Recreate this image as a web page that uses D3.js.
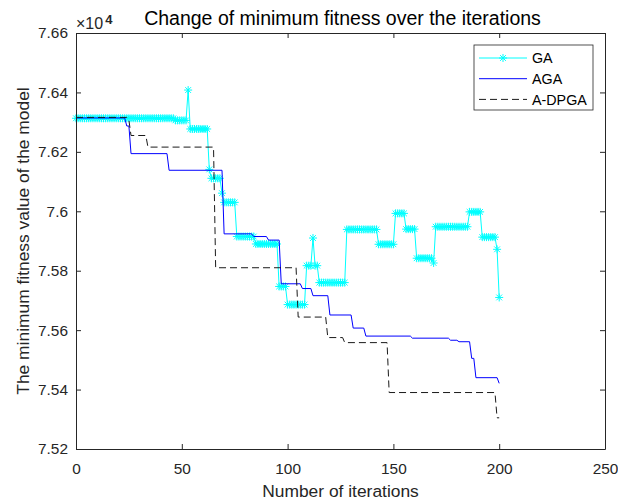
<!DOCTYPE html>
<html>
  <head>
    <meta charset="utf-8" />
    <title>Change of minimum fitness over the iterations</title>
    <script src="https://d3js.org/d3.v7.min.js"></script>
    <style>
      body { margin: 0; background: #fff; }
      svg { display: block; font-family: "Liberation Sans", Arial, Helvetica, sans-serif; }
    </style>
  </head>
  <body>
    <svg id="chart" width="618" height="502"></svg>

    <script>
      // Datos (valores en unidades de 10^4)
      const iterTicks = [0, 50, 100, 150, 200, 250];
      const valueTicks = [7.52, 7.54, 7.56, 7.58, 7.6, 7.62, 7.64, 7.66];
      const seriesNames = ["GA", "AGA", "A-DPGA"];

      // GA: un valor por iteración (0..200)
      const gaValue = [
        7.6313, 7.6313, 7.6313, 7.6313, 7.6313, 7.6313, 7.6313, 7.6313, 7.6313, 7.6313,
        7.6313, 7.6313, 7.6313, 7.6313, 7.6313, 7.6313, 7.6313, 7.6313, 7.6313, 7.6313,
        7.6313, 7.6313, 7.6313, 7.6313, 7.6313, 7.6313, 7.6313, 7.6313, 7.6313, 7.6313,
        7.6313, 7.6313, 7.6313, 7.6313, 7.6313, 7.6313, 7.6313, 7.6313, 7.6313, 7.6313,
        7.6313, 7.6313, 7.6313, 7.6313, 7.6313, 7.6313, 7.6313,
        7.6306, 7.6306, 7.6306, 7.6306, 7.6306, 7.6306,
        7.6408,
        7.6277, 7.6277, 7.6277, 7.6277, 7.6277, 7.6277, 7.6277, 7.6277, 7.6277,
        7.6141,
        7.6111, 7.6111, 7.6111, 7.6111, 7.6111,
        7.6061,
        7.6030, 7.6030, 7.6030, 7.6030, 7.6030, 7.6030,
        7.5915, 7.5915, 7.5915, 7.5915, 7.5915, 7.5915, 7.5915, 7.5915, 7.5915,
        7.5890, 7.5890, 7.5890, 7.5890, 7.5890, 7.5890, 7.5890, 7.5890, 7.5890, 7.5890, 7.5890,
        7.5747, 7.5747, 7.5747, 7.5747,
        7.5686, 7.5686, 7.5686, 7.5686, 7.5686, 7.5686, 7.5686, 7.5686, 7.5686,
        7.5817, 7.5817, 7.5817,
        7.5910,
        7.5817, 7.5817,
        7.5760, 7.5760, 7.5760, 7.5760, 7.5760, 7.5760, 7.5760, 7.5760, 7.5760, 7.5760, 7.5760, 7.5760, 7.5760,
        7.5939, 7.5939, 7.5939, 7.5939, 7.5939, 7.5939, 7.5939, 7.5939, 7.5939, 7.5939, 7.5939, 7.5939, 7.5939, 7.5939, 7.5939,
        7.5889, 7.5889, 7.5889, 7.5889, 7.5889, 7.5889, 7.5889, 7.5889,
        7.5993, 7.5993, 7.5993, 7.5993, 7.5993,
        7.5940, 7.5940, 7.5940, 7.5940, 7.5940,
        7.5842, 7.5842, 7.5842, 7.5842, 7.5842, 7.5842, 7.5842, 7.5842,
        7.5826,
        7.5948, 7.5948, 7.5948, 7.5948, 7.5948, 7.5948, 7.5948, 7.5948, 7.5948, 7.5948, 7.5948, 7.5948, 7.5948, 7.5948, 7.5948, 7.5948,
        7.5998, 7.5998, 7.5998, 7.5998, 7.5998, 7.5998,
        7.5913, 7.5913, 7.5913, 7.5913, 7.5913, 7.5913, 7.5913,
        7.5872,
        7.5710
      ];

      // AGA: vértices de la curva escalonada
      const agaIter = [0, 23, 24, 25, 26, 43, 44, 69, 70, 83, 84, 90, 91, 96, 97, 106, 107, 111, 112, 119,
        120, 130, 131, 136, 137, 158, 159, 176, 177, 180, 181, 186, 187, 188, 189, 199, 200];
      const agaValue = [7.6314, 7.6314, 7.6287, 7.6287, 7.6194, 7.6194, 7.6138, 7.6138, 7.5924, 7.5924,
        7.5915, 7.5915, 7.5903, 7.5903, 7.5756, 7.5756, 7.5740, 7.5740, 7.5716, 7.5716,
        7.5651, 7.5651, 7.5607, 7.5607, 7.5580, 7.5580, 7.5573, 7.5573, 7.5566, 7.5566,
        7.5561, 7.5561, 7.5505, 7.5505, 7.5440, 7.5440, 7.5421];

      // A-DPGA: vértices de la curva escalonada
      const adIter = [0, 24, 25, 26, 33, 34, 65, 66, 104, 105, 118, 119, 126, 127, 147, 148, 198, 199, 200];
      const adValue = [7.6316, 7.6316, 7.6307, 7.6255, 7.6255, 7.6216, 7.6216, 7.5810, 7.5810, 7.5644,
        7.5644, 7.5575, 7.5575, 7.5558, 7.5558, 7.5390, 7.5390, 7.5305, 7.5305];

      const svg = d3.select("#chart");
      const margin = { top: 33, right: 13, bottom: 53, left: 76 };
      const width = 618;
      const height = 502;
      const textColor = "#262626";

      const x = d3.scaleLinear().domain([0, 250]).range([margin.left, width - margin.right]);
      const y = d3.scaleLinear().domain([7.52, 7.66]).range([height - margin.bottom, margin.top]);

      const ga = gaValue.map((v, i) => [i, v]);
      const aga = agaIter.map((it, i) => [it, agaValue[i]]);
      const adpga = adIter.map((it, i) => [it, adValue[i]]);

      const line = d3.line().x((d) => x(d[0])).y((d) => y(d[1]));

      // Asterisco estilo MATLAB
      const star = (r) => {
        const q = r * 0.72;
        return `M${-r},0L${r},0M0,${-r}L0,${r}M${-q},${-q}L${q},${q}M${-q},${q}L${q},${-q}`;
      };

      // GA
      svg.append("path").datum(ga)
        .attr("fill", "none").attr("stroke", "#00ffff").attr("stroke-width", 1)
        .attr("d", line);
      svg.append("g").selectAll("path").data(ga).join("path")
        .attr("transform", (d) => `translate(${x(d[0])},${y(d[1])})`)
        .attr("d", star(4))
        .attr("fill", "none").attr("stroke", "#00ffff").attr("stroke-width", 1);

      // AGA
      svg.append("path").datum(aga)
        .attr("fill", "none").attr("stroke", "#0000ff").attr("stroke-width", 1)
        .attr("d", line);

      // A-DPGA
      svg.append("path").datum(adpga)
        .attr("fill", "none").attr("stroke", "#1a1a1a").attr("stroke-width", 1)
        .attr("stroke-dasharray", "7,4")
        .attr("d", line);

      // Ejes (ticks hacia dentro, caja completa)
      const styleAxis = (g) => {
        g.selectAll(".domain").attr("stroke", textColor);
        g.selectAll(".tick line").attr("stroke", textColor);
        g.selectAll("text").attr("fill", textColor).attr("font-family", null).style("font-size", "15.4px");
      };
      svg.append("g")
        .attr("transform", `translate(0,${height - margin.bottom})`)
        .call(d3.axisBottom(x).tickValues(iterTicks).tickSizeInner(-5).tickSizeOuter(0).tickPadding(14))
        .call(styleAxis);
      svg.append("g")
        .attr("transform", `translate(0,${margin.top})`)
        .call(d3.axisTop(x).tickValues(iterTicks).tickSizeInner(-5).tickSizeOuter(0).tickFormat(""))
        .call(styleAxis);
      svg.append("g")
        .attr("transform", `translate(${margin.left},0)`)
        .call(d3.axisLeft(y).tickValues(valueTicks).tickSizeInner(-5).tickSizeOuter(0).tickPadding(8)
          .tickFormat((d) => d3.format("")(+d.toFixed(2))))
        .call(styleAxis);
      svg.append("g")
        .attr("transform", `translate(${width - margin.right},0)`)
        .call(d3.axisRight(y).tickValues(valueTicks).tickSizeInner(-5).tickSizeOuter(0).tickFormat(""))
        .call(styleAxis);

      // Exponente ×10^4
      const expo = svg.append("text").attr("x", 76).attr("y", 28.5).attr("fill", textColor).style("font-size", "16px");
      expo.append("tspan").text("×10");
      expo.append("tspan").attr("dy", -5).attr("dx", 2).attr("font-weight", "bold").style("font-size", "13px").text("4");

      // Título y etiquetas
      svg.append("text")
        .attr("x", (margin.left + width - margin.right) / 2 + 2).attr("y", 25)
        .attr("text-anchor", "middle").attr("fill", "#000").style("font-size", "19.5px")
        .text("Change of minimum fitness over the iterations");
      svg.append("text")
        .attr("x", (margin.left + width - margin.right) / 2).attr("y", 497)
        .attr("text-anchor", "middle").attr("fill", textColor).style("font-size", "17.4px")
        .text("Number of iterations");
      svg.append("text")
        .attr("transform", `translate(29,${(margin.top + height - margin.bottom) / 2}) rotate(-90)`)
        .attr("text-anchor", "middle").attr("fill", textColor).style("font-size", "17.4px")
        .text("The minimum fitness value of the model");

      // Leyenda
      const legend = svg.append("g").attr("transform", "translate(474,45)");
      legend.append("rect").attr("width", 119).attr("height", 65)
        .attr("fill", "#fff").attr("stroke", textColor).attr("stroke-width", 0.8);
      const legendStyle = [
        { stroke: "#00ffff", dash: null, marker: true },
        { stroke: "#0000ff", dash: null, marker: false },
        { stroke: "#1a1a1a", dash: "7,4", marker: false }
      ];
      const item = legend.selectAll("g.item").data(seriesNames).join("g")
        .attr("class", "item")
        .attr("transform", (d, i) => `translate(0,${13 + i * 20.7})`);
      item.append("line").attr("x1", 5).attr("x2", 53)
        .attr("stroke", (d, i) => legendStyle[i].stroke)
        .attr("stroke-dasharray", (d, i) => legendStyle[i].dash);
      item.filter((d, i) => legendStyle[i].marker).append("path")
        .attr("transform", "translate(29,0)").attr("d", star(4))
        .attr("fill", "none").attr("stroke", "#00ffff");
      item.append("text").attr("x", 58).attr("y", 5.3)
        .attr("fill", "#000").style("font-size", "14.3px").text((d) => d);
    </script>
  </body>
</html>
